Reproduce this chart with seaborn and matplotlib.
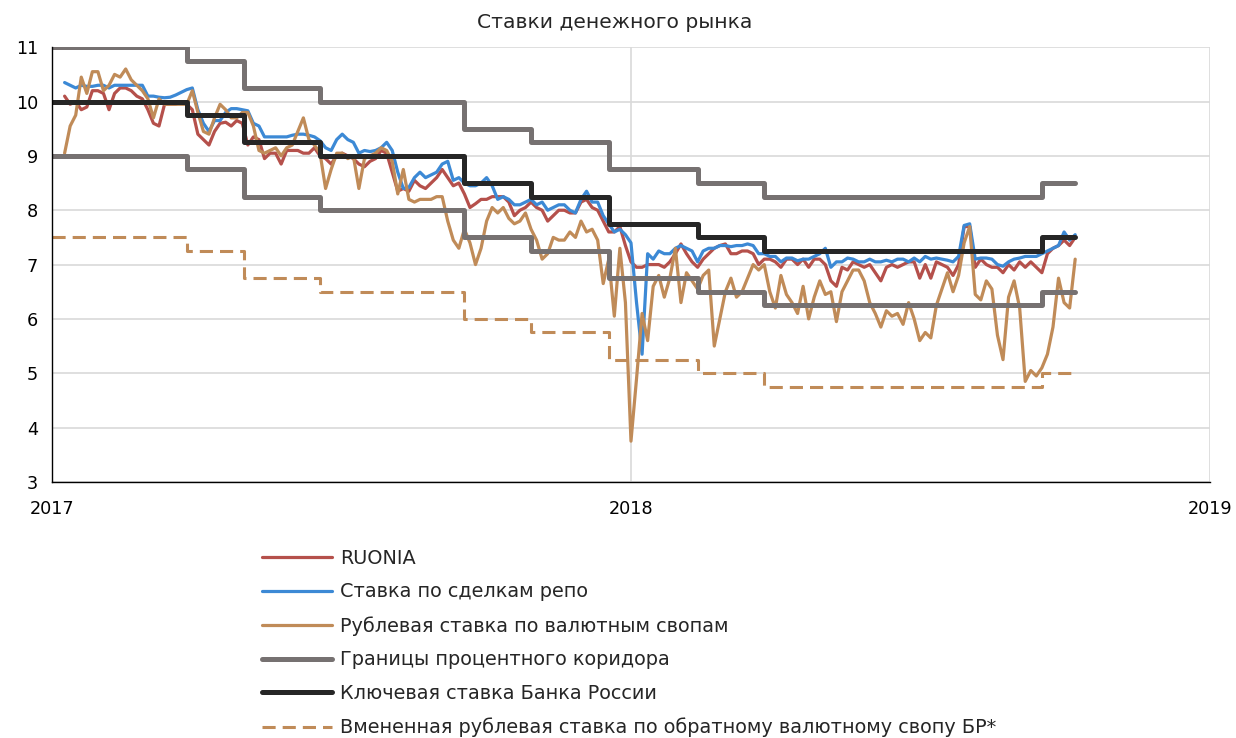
import pandas as pd
import matplotlib.pyplot as plt
import matplotlib.dates as mdates
import seaborn as sns

sns.set_style("white")
plt.rcParams["font.family"] = ["DejaVu Sans"]

# twice-weekly observations, % per annum
obs_dates = pd.date_range("2017-01-09", periods=183, freq="84h")

ruonia = [10.1, 9.95, 10.0, 9.85, 9.9, 10.2, 10.2, 10.15, 9.85, 10.15,
          10.25, 10.25, 10.2, 10.1, 10.05, 9.85, 9.6, 9.55, 9.95, 9.95,
          9.95, 10.0, 9.95, 9.85, 9.4, 9.3, 9.2, 9.45, 9.6, 9.62,
          9.55, 9.65, 9.6, 9.2, 9.35, 9.3, 8.95, 9.05, 9.05, 8.85,
          9.1, 9.1, 9.1, 9.05, 9.05, 9.15, 9.0, 8.95, 8.85, 9.0,
          9.05, 9.0, 8.95, 8.85, 8.8, 8.9, 8.95, 9.1, 9.05, 8.7,
          8.35, 8.4, 8.35, 8.55, 8.45, 8.4, 8.5, 8.6, 8.75, 8.6,
          8.45, 8.5, 8.3, 8.05, 8.12, 8.2, 8.2, 8.25, 8.25, 8.25,
          8.15, 7.9, 8.0, 8.05, 8.15, 8.05, 8.0, 7.8, 7.9, 8.0,
          8.0, 7.95, 7.95, 8.15, 8.2, 8.05, 8.0, 7.8, 7.6, 7.6,
          7.7, 7.35, 7.05, 6.95, 6.95, 7.0, 7.0, 7.0, 6.95, 7.05,
          7.2, 7.38, 7.2, 7.05, 6.95, 7.1, 7.2, 7.3, 7.35, 7.38,
          7.2, 7.2, 7.25, 7.25, 7.2, 7.0, 7.1, 7.1, 7.05, 6.95,
          7.1, 7.1, 7.0, 7.1, 6.95, 7.1, 7.1, 7.0, 6.7, 6.6,
          6.95, 6.9, 7.05, 7.0, 6.95, 7.0, 6.85, 6.7, 6.95, 7.0,
          6.95, 7.0, 7.05, 7.05, 6.75, 7.0, 6.75, 7.05, 7.0, 6.95,
          6.8, 7.0, 7.7, 7.7, 6.95, 7.1, 7.0, 6.95, 6.95, 6.85,
          7.0, 6.9, 7.05, 6.95, 7.05, 6.95, 6.85, 7.2, 7.3, 7.35,
          7.45, 7.35, 7.5]

repo = [10.35, 10.3, 10.25, 10.3, 10.28, 10.28, 10.3, 10.3, 10.25, 10.3,
        10.3, 10.3, 10.3, 10.3, 10.3, 10.1, 10.1, 10.08, 10.07, 10.08,
        10.12, 10.17, 10.22, 10.25, 9.85, 9.6, 9.45, 9.65, 9.65, 9.8,
        9.87, 9.87, 9.85, 9.83, 9.6, 9.55, 9.35, 9.35, 9.35, 9.35,
        9.35, 9.38, 9.4, 9.4, 9.38, 9.35, 9.28, 9.15, 9.1, 9.3,
        9.4, 9.3, 9.25, 9.05, 9.1, 9.08, 9.1, 9.15, 9.25, 9.1,
        8.7, 8.4, 8.42, 8.6, 8.7, 8.6, 8.65, 8.7, 8.85, 8.9,
        8.55, 8.6, 8.5, 8.45, 8.45, 8.5, 8.6, 8.45, 8.2, 8.25,
        8.2, 8.1, 8.1, 8.15, 8.2, 8.1, 8.15, 8.0, 8.05, 8.1,
        8.1, 8.0, 7.95, 8.2, 8.35, 8.15, 8.15, 7.9, 7.75, 7.6,
        7.65, 7.55, 7.4, 6.3, 5.35, 7.2, 7.1, 7.25, 7.2, 7.2,
        7.3, 7.35, 7.3, 7.25, 7.05, 7.25, 7.3, 7.3, 7.35, 7.35,
        7.33, 7.35, 7.35, 7.38, 7.35, 7.2, 7.2, 7.15, 7.15, 7.05,
        7.12, 7.12, 7.07, 7.1, 7.1, 7.15, 7.2, 7.3, 6.95, 7.05,
        7.05, 7.12, 7.1, 7.05, 7.05, 7.1, 7.05, 7.05, 7.08, 7.05,
        7.1, 7.1, 7.05, 7.12, 7.05, 7.15, 7.1, 7.12, 7.1, 7.08,
        7.05, 7.15, 7.72, 7.75, 7.1, 7.12, 7.12, 7.1, 7.0, 6.97,
        7.05, 7.1, 7.12, 7.15, 7.15, 7.15, 7.2, 7.25, 7.3, 7.35,
        7.6, 7.45, 7.55]

swap = [9.05, 9.55, 9.75, 10.45, 10.15, 10.55, 10.55, 10.2, 10.3, 10.5,
        10.45, 10.6, 10.4, 10.3, 10.2, 10.05, 9.7, 10.05, 9.95, 9.95,
        9.95, 9.95, 9.95, 10.2, 9.8, 9.45, 9.4, 9.7, 9.95, 9.85,
        9.7, 9.7, 9.8, 9.8, 9.55, 9.1, 9.05, 9.1, 9.15, 9.0,
        9.15, 9.2, 9.45, 9.7, 9.3, 9.2, 9.05, 8.4, 8.75, 9.05,
        9.05, 8.95, 9.0, 8.4, 8.95, 9.0, 9.05, 9.15, 9.1, 8.9,
        8.3, 8.75, 8.2, 8.15, 8.2, 8.2, 8.2, 8.25, 8.25, 7.8,
        7.45, 7.3, 7.65, 7.4, 7.0, 7.3, 7.8, 8.05, 7.95, 8.05,
        7.85, 7.75, 7.8, 7.95, 7.65, 7.45, 7.1, 7.2, 7.5, 7.45,
        7.45, 7.6, 7.5, 7.8, 7.6, 7.65, 7.45, 6.65, 7.1, 6.05,
        7.3, 6.3, 3.75, 4.9, 6.1, 5.6, 6.6, 6.8, 6.4, 6.75,
        7.3, 6.3, 6.85, 6.7, 6.55, 6.8, 6.9, 5.5, 6.0, 6.5,
        6.75, 6.4, 6.5, 6.75, 7.0, 6.9, 7.0, 6.5, 6.2, 6.8,
        6.45, 6.3, 6.1, 6.6, 6.0, 6.4, 6.7, 6.45, 6.5, 5.95,
        6.5, 6.7, 6.9, 6.9, 6.7, 6.3, 6.1, 5.85, 6.15, 6.05,
        6.1, 5.9, 6.3, 6.0, 5.6, 5.75, 5.65, 6.25, 6.55, 6.85,
        6.5, 6.8, 7.4, 7.7, 6.45, 6.35, 6.7, 6.55, 5.7, 5.25,
        6.4, 6.7, 6.2, 4.85, 5.05, 4.95, 5.1, 5.35, 5.85, 6.75,
        6.3, 6.2, 7.1]

# Bank of Russia decisions
decisions = pd.to_datetime(["2017-01-01", "2017-03-27", "2017-05-02", "2017-06-19",
                            "2017-09-18", "2017-10-30", "2017-12-18", "2018-02-12",
                            "2018-03-26", "2018-09-17", "2018-10-08"])
key_rate = [10.0, 9.75, 9.25, 9.0, 8.5, 8.25, 7.75, 7.5, 7.25, 7.5, 7.5]
upper = [11.0, 10.75, 10.25, 10.0, 9.5, 9.25, 8.75, 8.5, 8.25, 8.5, 8.5]
lower = [9.0, 8.75, 8.25, 8.0, 7.5, 7.25, 6.75, 6.5, 6.25, 6.5, 6.5]
implied = [7.5, 7.25, 6.75, 6.5, 6.0, 5.75, 5.25, 5.0, 4.75, 5.0, 5.0]

df = pd.DataFrame({"date": obs_dates, "ruonia": ruonia, "repo": repo, "swap": swap})
pol = pd.DataFrame({"date": decisions, "key": key_rate, "upper": upper,
                    "lower": lower, "implied": implied})

fig, ax = plt.subplots(figsize=(12.36, 7.38), dpi=100)
fig.subplots_adjust(left=0.042, right=0.979, top=0.936, bottom=0.347)

sns.lineplot(data=df, x="date", y="ruonia", color="#B5504B", lw=2.3, label="RUONIA", ax=ax)
sns.lineplot(data=df, x="date", y="repo", color="#3C89D5", lw=2.3, label="Ставка по сделкам репо", ax=ax)
sns.lineplot(data=df, x="date", y="swap", color="#C08B58", lw=2.3,
             label="Рублевая ставка по валютным свопам", ax=ax)
sns.lineplot(data=pol, x="date", y="upper", color="#767171", lw=3.6, drawstyle="steps-post",
             label="Границы процентного коридора", ax=ax)
sns.lineplot(data=pol, x="date", y="lower", color="#767171", lw=3.6, drawstyle="steps-post",
             label="_nolegend_", ax=ax)
sns.lineplot(data=pol, x="date", y="key", color="#262626", lw=3.6, drawstyle="steps-post",
             label="Ключевая ставка Банка России", ax=ax)
sns.lineplot(data=pol, x="date", y="implied", color="#C08B58", lw=2.2, drawstyle="steps-post",
             linestyle=(0, (4.3, 2.3)),
             label="Вмененная рублевая ставка по обратному валютному свопу БР*", ax=ax)

ax.set_xlim(pd.Timestamp("2017-01-01"), pd.Timestamp("2019-01-01"))
ax.set_ylim(3, 11)
ax.set_yticks(range(3, 12))
ax.xaxis.set_major_locator(mdates.YearLocator())
ax.xaxis.set_major_formatter(mdates.DateFormatter("%Y"))
ax.xaxis.set_minor_locator(mdates.MonthLocator(bymonth=[4, 7, 10]))
ax.set_xlabel("")
ax.set_ylabel("")

ax.grid(True, which="major", color="#D9D9D9", lw=1.2)
ax.set_axisbelow(True)
sns.despine(ax=ax)
for s in ["left", "bottom"]:
    ax.spines[s].set_color("black")
    ax.spines[s].set_linewidth(1.0)
ax.tick_params(axis="both", which="major", direction="inout", length=8, width=1,
               labelsize=12.7, colors="black")
ax.tick_params(axis="x", which="minor", direction="out", length=5, width=1, colors="black")
ax.tick_params(axis="x", which="major", pad=9)
ax.tick_params(axis="y", which="major", pad=6)

fig.suptitle("Ставки денежного рынка", x=0.4976, y=0.970, va="center", fontsize=14.6)

handles, labels = ax.get_legend_handles_labels()
if ax.get_legend() is not None:
    ax.get_legend().remove()
fig.legend(handles, labels, loc="upper left", bbox_to_anchor=(0.212, 0.2566),
           frameon=False, fontsize=13.9, handlelength=3.6, handletextpad=0.42,
           labelspacing=0.76, borderpad=0, borderaxespad=0)

fig.savefig("out.png", dpi=100)
